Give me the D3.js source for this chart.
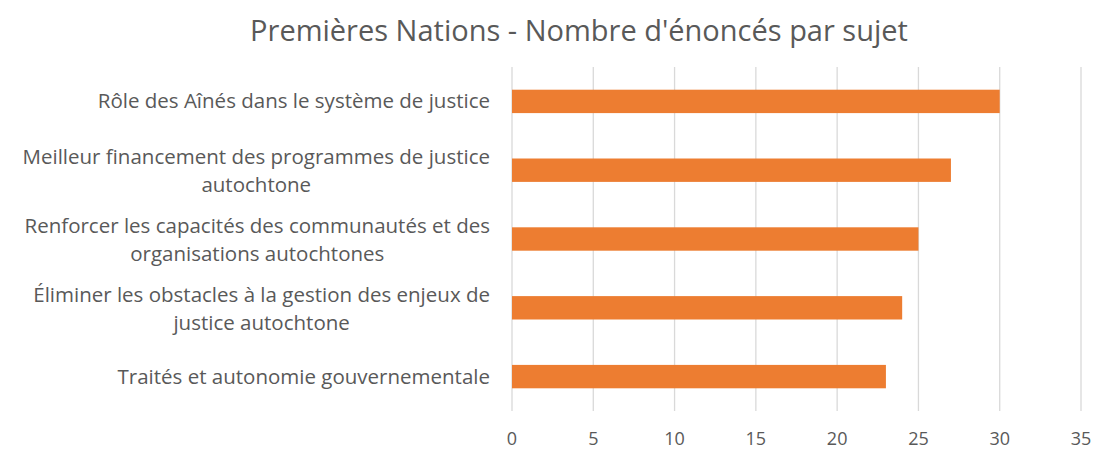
<!DOCTYPE html>
<html>
<head>
<meta charset="utf-8">
<script src="https://cdn.jsdelivr.net/npm/d3@7"></script>
<style>
body { margin: 0; background: #fff; }
text { font-family: "Open Sans", "Liberation Sans", sans-serif; fill: #595959; }
</style>
</head>
<body>
<script>
var categories = [
    ["Rôle des Aînés dans le système de justice"],
    ["Meilleur financement des programmes de justice", "autochtone"],
    ["Renforcer les capacités des communautés et des", "organisations autochtones"],
    ["Éliminer les obstacles à la gestion des enjeux de", "justice autochtone"],
    ["Traités et autonomie gouvernementale"]
];
var values = [30, 27, 25, 24, 23];
var ticks = [0, 5, 10, 15, 20, 25, 30, 35];

var width = 1112, height = 458;
var svg = d3.select('body').append('svg').attr('width', width).attr('height', height);

var x = d3.scaleLinear().domain([0, 35]).range([512, 1081]);
var y = d3.scaleBand().domain(d3.range(categories.length)).range([67, 411]).paddingInner(0.66).paddingOuter(0.33);

svg.append('text').attr('x', 579).attr('y', 41).attr('text-anchor', 'middle')
    .style('font-size', '29px').text("Premières Nations - Nombre d'énoncés par sujet");

svg.selectAll('line.grid').data(ticks).enter().append('line')
    .attr('x1', d => x(d)).attr('x2', d => x(d))
    .attr('y1', 67).attr('y2', 411)
    .attr('stroke', '#d9d9d9').attr('stroke-width', 1.3);

svg.selectAll('rect').data(values).enter().append('rect')
    .attr('x', x(0)).attr('y', (d, i) => y(i))
    .attr('width', d => x(d) - x(0)).attr('height', y.bandwidth())
    .attr('fill', '#ED7D31');

svg.selectAll('text.tick').data(ticks).enter().append('text')
    .attr('x', d => x(d)).attr('y', 445).attr('text-anchor', 'middle')
    .style('font-size', '18px').text(d => d);

var labels = svg.selectAll('text.cat').data(categories).enter().append('text')
    .attr('text-anchor', 'end').style('font-size', '20.5px')
    .attr('transform', (d, i) => 'translate(490,' + (y(i) + y.bandwidth() / 2) + ')');
labels.each(function(d) {
    var t = d3.select(this);
    d.forEach(function(line, j) {
        t.append('tspan').attr('x', 0)
            .attr('y', d.length > 1 ? (j === 0 ? -6 : 22) : 7)
            .attr('text-anchor', d.length > 1 && j === 1 ? 'middle' : 'end')
            .text(line);
    });
});
// centre second line under the first
labels.each(function(d) {
    if (d.length < 2) return;
    var spans = d3.select(this).selectAll('tspan').nodes();
    var w = spans[0].getComputedTextLength();
    d3.select(spans[1]).attr('x', -w / 2);
});
</script>
</body>
</html>
